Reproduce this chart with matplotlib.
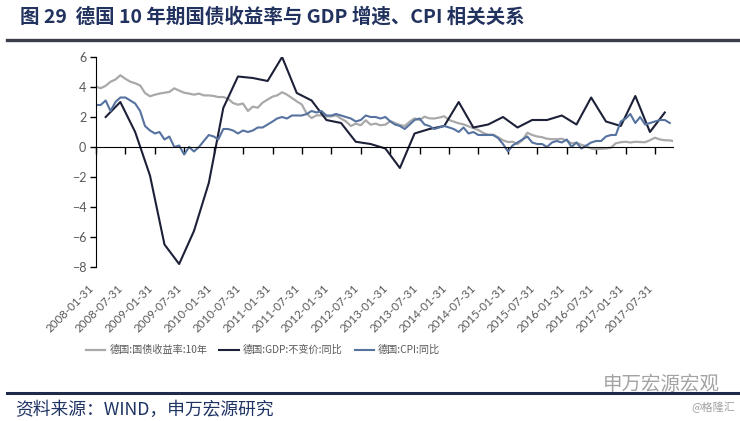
import matplotlib
matplotlib.use('Agg')
import matplotlib.pyplot as plt
import matplotlib.dates as mdates
import pandas as pd

plt.rcParams['font.family'] = ['Noto Sans CJK SC', 'DejaVu Sans']

# ---- data ----
tick_labels = ['2008-01-31', '2008-07-31', '2009-01-31', '2009-07-31', '2010-01-31',
               '2010-07-31', '2011-01-31', '2011-07-31', '2012-01-31', '2012-07-31',
               '2013-01-31', '2013-07-31', '2014-01-31', '2014-07-31', '2015-01-31',
               '2015-07-31', '2016-01-31', '2016-07-31', '2017-01-31', '2017-07-31']

# 10y bund yield, month ends 2008-01 .. 2017-10, plus last day shown
bund_dates = list(pd.date_range('2008-01-31', '2017-10-31', freq='ME')) + [pd.Timestamp('2017-11-20')]
bund_10y = [4.02, 3.92, 4.08, 4.35, 4.50, 4.78, 4.55, 4.35, 4.25, 4.10, 3.60, 3.38,
            3.49, 3.56, 3.62, 3.67, 3.91, 3.76, 3.62, 3.56, 3.49, 3.56, 3.44, 3.44,
            3.40, 3.33, 3.33, 3.22, 2.93, 2.82, 2.90, 2.40, 2.69, 2.62, 2.96, 3.16,
            3.36, 3.44, 3.65, 3.49, 3.27, 3.04, 2.84, 2.22, 1.93, 2.11, 2.11, 2.04,
            2.04, 2.11, 1.89, 1.71, 1.40, 1.56, 1.45, 1.78, 1.49, 1.56, 1.45, 1.49,
            1.73, 1.60, 1.47, 1.40, 1.69, 1.91, 1.80, 2.02, 1.91, 1.90, 1.96, 2.05,
            1.80, 1.69, 1.58, 1.51, 1.38, 1.26, 1.13, 0.93, 0.82, 0.82, 0.65, 0.45,
            0.33, 0.35, 0.20, 0.45, 0.95, 0.80, 0.70, 0.65, 0.55, 0.52, 0.52, 0.55,
            0.42, 0.25, 0.28, 0.15, 0.05, -0.10, -0.15, -0.12, -0.10, -0.05, 0.25, 0.32,
            0.35, 0.30, 0.35, 0.33, 0.32, 0.45, 0.62, 0.50, 0.45, 0.44, 0.40]

# GDP constant price yoy, quarter ends 2008Q1 .. 2017Q3
gdp_dates = pd.date_range('2008-03-31', '2017-09-30', freq='QE')
gdp_yoy = [2.0, 3.0, 1.0, -1.9,
           -6.5, -7.8, -5.6, -2.4,
           2.6, 4.7, 4.6, 4.4,
           6.0, 3.6, 3.1, 1.8,
           1.6, 0.35, 0.2, -0.1,
           -1.4, 0.9, 1.2, 1.4,
           3.0, 1.3, 1.5, 2.0,
           1.3, 1.8, 1.8, 2.1,
           1.5, 3.3, 1.7, 1.4,
           3.4, 1.0, 2.3]

# CPI yoy, month ends 2008-01 .. 2017-10
cpi_dates = pd.date_range('2008-01-31', '2017-10-31', freq='ME')
cpi_yoy = [2.8, 2.8, 3.1, 2.4, 3.0, 3.3, 3.3, 3.1, 2.9, 2.4, 1.4, 1.1,
           0.9, 1.0, 0.5, 0.7, 0.0, 0.1, -0.5, 0.0, -0.3, 0.0, 0.4, 0.8,
           0.7, 0.5, 1.2, 1.2, 1.1, 0.9, 1.1, 1.0, 1.1, 1.3, 1.3, 1.5,
           1.7, 1.9, 2.0, 1.9, 2.1, 2.1, 2.1, 2.2, 2.4, 2.3, 2.4, 2.1,
           2.1, 2.2, 2.1, 2.0, 1.9, 1.7, 1.8, 2.1, 2.0, 2.0, 1.9, 2.0,
           1.7, 1.5, 1.4, 1.2, 1.5, 1.8, 1.9, 1.5, 1.4, 1.2, 1.3, 1.4,
           1.3, 1.2, 1.0, 1.3, 0.9, 1.0, 0.8, 0.8, 0.8, 0.8, 0.6, 0.2,
           -0.3, 0.1, 0.3, 0.5, 0.7, 0.3, 0.2, 0.2, 0.0, 0.3, 0.4, 0.3,
           0.5, 0.0, 0.3, -0.1, 0.1, 0.3, 0.4, 0.4, 0.7, 0.8, 0.8, 1.7,
           1.9, 2.2, 1.6, 2.0, 1.5, 1.6, 1.7, 1.8, 1.8, 1.6]

names = ['德国:国债收益率:10年', '德国:GDP:不变价:同比', '德国:CPI:同比']

xb = mdates.date2num(bund_dates)
xg = mdates.date2num(gdp_dates)
xc = mdates.date2num(cpi_dates)
xt = mdates.date2num(pd.to_datetime(tick_labels))

fig = plt.figure(figsize=(7.4, 4.21), dpi=100)
ax = fig.add_axes([96/740, 1-267/421, (673-96)/740, (267-57)/421])

ax.plot(xb, bund_10y, color='#a9a9a9', lw=1.6, label=names[0])
ax.plot(xg, gdp_yoy, color='#1c2038', lw=1.5, label=names[1])
ax.plot(xc, cpi_yoy, color='#56729f', lw=1.5, label=names[2])

ax.set_ylim(-8, 6)
ax.set_xlim(xt[0], mdates.date2num(pd.Timestamp('2017-11-20')))
ax.set_yticks(range(-8, 7, 2))
for s in ['top', 'right']:
    ax.spines[s].set_visible(False)
ax.spines['left'].set_color('black')
ax.spines['bottom'].set_position(('data', 0))
ax.spines['bottom'].set_color('black')
ax.set_xticks(xt)
ax.tick_params(axis='x', direction='out', length=5, width=1, labelbottom=False)
ax.tick_params(axis='y', direction='out', length=4, width=1, colors='black',
               labelcolor='#595959', labelsize=9, pad=3)
for t in ax.get_yticklabels():
    t.set_family('Lato')

sec = ax.secondary_xaxis('bottom')
sec.set_xticks(xt, tick_labels)
sec.spines['bottom'].set_visible(False)
sec.tick_params(length=0, pad=11, labelsize=8.3, labelcolor='#595959')
for t in sec.get_xticklabels():
    t.set_rotation(45)
    t.set_ha('right')
    t.set_family('Lato')

fig.legend(loc='center', bbox_to_anchor=(263/740, 1-350/421), ncol=3, frameon=False,
           fontsize=7.3, handlelength=1.9, handletextpad=0.4, columnspacing=1.2,
           labelcolor='#595959')

# header / footer
fig.text(20/740, 1-17/421, '图 29  德国 10 年期国债收益率与 GDP 增速、CPI 相关关系',
         fontsize=14, fontweight='bold', color='#22325e', va='center', ha='left')
fig.add_artist(plt.Line2D([7/740, 1], [1-40/421, 1-40/421], color='#3b3d4a', lw=2.4))
fig.add_artist(plt.Line2D([7/740, 1], [1-393/421, 1-393/421], color='#1f2a4a', lw=2.2))
fig.text(15/740, 1-410/421, '资料来源：WIND，申万宏源研究', fontsize=12.8, color='#1f3464',
         va='center', ha='left')
fig.text(720/740, 1-384/421, '申万宏源宏观', fontsize=14, color='#8c8c8c',
         va='center', ha='right', alpha=0.8)
fig.text(735/740, 1-407/421, '@格隆汇', fontsize=8, color='#a0a0a0',
         va='center', ha='right')

fig.savefig('out.png', dpi=100)
